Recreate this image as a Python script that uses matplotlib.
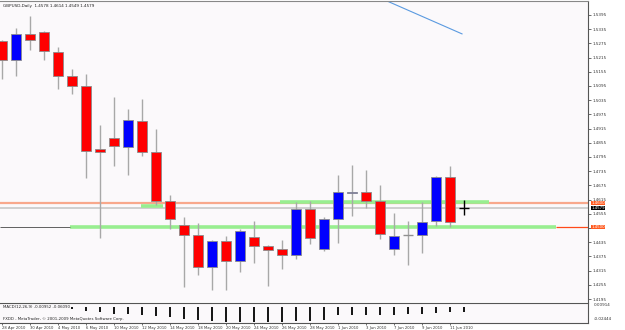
import matplotlib
matplotlib.use("Agg")
import matplotlib.pyplot as plt
import numpy as np

# GBPUSD daily candles, 28 Apr 2010 .. 14 Jun 2010
opens = [1.5286, 1.5206, 1.5315, 1.5323, 1.5239, 1.5138, 1.5096, 1.4827, 1.4877, 1.4839,
         1.4949, 1.4818, 1.4608, 1.4507, 1.4465, 1.4330, 1.4439, 1.4355, 1.4456, 1.4418,
         1.4406, 1.4380, 1.4574, 1.4406, 1.4532, 1.4641, 1.4646, 1.4608, 1.4406, 1.4465,
         1.4465, 1.4523, 1.4709, 1.4578]
highs = [1.5290, 1.5340, 1.5391, 1.5328, 1.5260, 1.5168, 1.5147, 1.4932, 1.5050, 1.4999,
         1.5041, 1.4915, 1.4633, 1.4540, 1.4515, 1.4443, 1.4460, 1.4490, 1.4523, 1.4422,
         1.4443, 1.4603, 1.4608, 1.4540, 1.4717, 1.4763, 1.4738, 1.4675, 1.4557, 1.4523,
         1.4603, 1.4713, 1.4755, 1.4614]
lows = [1.5126, 1.5138, 1.5248, 1.5206, 1.5083, 1.5062, 1.4705, 1.4452, 1.4755, 1.4717,
        1.4801, 1.4591, 1.4490, 1.4246, 1.4296, 1.4233, 1.4233, 1.4309, 1.4347, 1.4250,
        1.4321, 1.4363, 1.4427, 1.4397, 1.4431, 1.4545, 1.4578, 1.4448, 1.4380, 1.4338,
        1.4389, 1.4502, 1.4498, 1.4549]
closes = [1.5206, 1.5315, 1.5290, 1.5243, 1.5138, 1.5096, 1.4822, 1.4814, 1.4843, 1.4953,
          1.4814, 1.4608, 1.4532, 1.4465, 1.4330, 1.4439, 1.4355, 1.4481, 1.4418, 1.4401,
          1.4380, 1.4574, 1.4452, 1.4532, 1.4646, 1.4646, 1.4608, 1.4469, 1.4460, 1.4465,
          1.4519, 1.4709, 1.4519, 1.4579]

# MACD(12,26,9) histogram
macd = [0.0, 0.0, 0.0, 0.0, 0.0, -0.0032, -0.0064, -0.0085, -0.0107, -0.0117,
        -0.0123, -0.0144, -0.0165, -0.0187, -0.0213, -0.0224, -0.0240, -0.0240, -0.0244, -0.0240,
        -0.0244, -0.0219, -0.0224, -0.0208, -0.0133, -0.0128, -0.0128, -0.0123, -0.0123, -0.0117,
        -0.0107, -0.0096, -0.0085, -0.0075]

date_pos = [0, 2, 4, 6, 8, 10, 12, 14, 16, 18, 20, 22, 24, 26, 28, 30, 32]
date_labels = ["28 Apr 2010", "30 Apr 2010", "4 May 2010", "6 May 2010", "10 May 2010",
               "12 May 2010", "14 May 2010", "18 May 2010", "20 May 2010", "24 May 2010",
               "26 May 2010", "28 May 2010", "1 Jun 2010", "3 Jun 2010", "7 Jun 2010",
               "9 Jun 2010", "11 Jun 2010"]

price_ticks = [1.5395, 1.5335, 1.5275, 1.5215, 1.5155, 1.5095, 1.5035, 1.4975, 1.4915,
               1.4855, 1.4795, 1.4735, 1.4675, 1.4615, 1.4555, 1.4495, 1.4435, 1.4375,
               1.4315, 1.4255, 1.4195]

# drawn objects
trend_x = [27.5, 32.86]
trend_y = [1.5454, 1.5315]
green_levels = [(1.4500, 4.86, 39.6), (1.4604, 19.86, 34.8), (1.4589, 9.93, 11.5)]
salmon_level = 1.4600
bid_level = 1.4579
red_level = (1.4500, 39.6)
left_level = (1.4500, 4.86)

BG = "#fbf9fb"
fig = plt.figure(figsize=(6.25, 3.3), dpi=100, facecolor="white")
ax = fig.add_axes([0.0, 1 - 302 / 330, 588 / 625, 301 / 330], facecolor=BG)
sub = fig.add_axes([0.0, 1 - 323 / 330, 588 / 625, 20 / 330], facecolor=BG, sharex=ax)

x = np.arange(len(opens))
ax.set_xlim(-0.143, 41.86)
ax.set_ylim(1.41824, 1.54539)

# horizontal objects
ax.axhline(salmon_level, color="#f8a88c", lw=1.6, zorder=1)
ax.axhline(bid_level, color="#cfcfcf", lw=1.4, zorder=1)
for lvl, x0, x1 in green_levels:
    ax.hlines(lvl, x0, x1, color="#98ee90", lw=2.6, zorder=1)
ax.hlines(red_level[0], red_level[1], 41.86, color="#ff4a1a", lw=0.9, zorder=1)
ax.hlines(left_level[0], -0.143, left_level[1], color="#606060", lw=0.7, zorder=1)
ax.plot(trend_x, trend_y, color="#5a9ae0", lw=0.8, zorder=2)

# candles
for i in x:
    o, h, l, c = opens[i], highs[i], lows[i], closes[i]
    wick = "black" if i == len(x) - 1 else "#a8a8a8"
    ax.vlines(i, l, h, color=wick, lw=1.0, zorder=3)
    if abs(c - o) < 0.0002:
        ax.hlines(c, i - 0.37, i + 0.37, color=wick if i == len(x) - 1 else "#909090",
                  lw=1.0, zorder=4)
        continue
    col = "#0000ff" if c > o else "#ff0000"
    ax.bar(i, abs(c - o), bottom=min(o, c), width=0.75, color=col,
           edgecolor="#8c8c8c", linewidth=0.6, zorder=4)

# the 1.4495 label sits under the 1.4500 price box in the terminal, so it is left blank
ax.yaxis.tick_right()
ax.set_yticks(price_ticks)
ax.set_yticklabels(["" if abs(t - red_level[0]) < 0.001 else f"{t:.4f}" for t in price_ticks])
ax.tick_params(axis="y", labelsize=3.0, length=2, width=0.5, pad=1, colors="#333333")
ax.tick_params(axis="x", bottom=False, labelbottom=False)
for s in ["left", "bottom"]:
    ax.spines[s].set_visible(False)
ax.spines["right"].set_color("#555555")
ax.spines["top"].set_color("#888888")
ax.spines["right"].set_linewidth(0.8)
ax.spines["top"].set_linewidth(0.8)

# price boxes on the axis
for val, fc in [(salmon_level, "#ff5a1f"), (bid_level, "black"), (red_level[0], "#ff5a1f")]:
    ax.text(1.006, val, f"{val:.4f}", transform=ax.get_yaxis_transform(), fontsize=2.8,
            color="white", va="center", ha="left", zorder=5,
            bbox=dict(boxstyle="square,pad=0.08", fc=fc, ec="none"))

ax.text(0.005, 0.99, "GBPUSD,Daily  1.4578 1.4614 1.4549 1.4579", transform=ax.transAxes,
        fontsize=3.0, color="#222222", va="top", ha="left")

# MACD sub window
vals = np.array(macd)
m = vals != 0
sub.vlines(x[m], vals[m], 0, color="black", lw=1.3)
sub.set_ylim(-0.0256, 0.0064)
sub.set_yticks([])
sub.text(1.01, 0.88, "0.00914", transform=sub.transAxes, fontsize=3.0, va="center",
         ha="left", color="#333333")
sub.text(1.01, 0.2, "-0.02444", transform=sub.transAxes, fontsize=3.0, va="center",
         ha="left", color="#333333")
sub.text(0.005, 0.8, "MACD(12,26,9) -0.00952 -0.06090", transform=sub.transAxes,
         fontsize=2.8, va="center", ha="left", color="#222222")
sub.text(0.005, 0.2, "FXDD - MetaTrader, \u00a9 2001-2009 MetaQuotes Software Corp.",
         transform=sub.transAxes, fontsize=2.8, va="center", ha="left", color="#222222")
sub.set_xticks(date_pos)
sub.set_xticklabels(date_labels)
for lab in sub.get_xticklabels():
    lab.set_ha("left")
sub.tick_params(axis="x", labelsize=2.7, length=1.5, width=0.5, pad=0.8, colors="#333333")
sub.spines["left"].set_visible(False)
sub.spines["top"].set_color("#555555")
sub.spines["right"].set_color("#555555")
sub.spines["bottom"].set_color("#555555")
for s in sub.spines.values():
    s.set_linewidth(0.8)

fig.savefig("out.png", dpi=100, facecolor="white")
